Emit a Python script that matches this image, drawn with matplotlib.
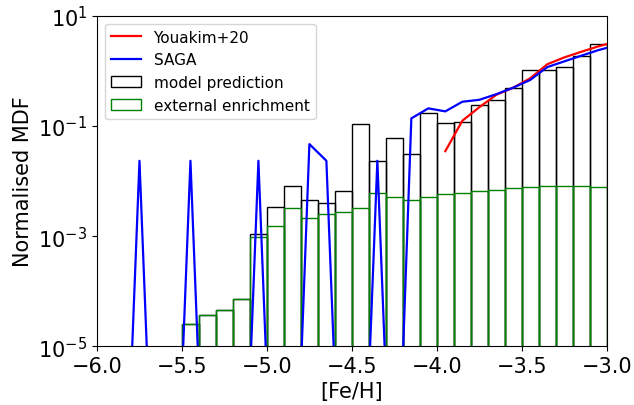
import numpy as np
import matplotlib
matplotlib.use('Agg')
import matplotlib.pyplot as plt
from matplotlib.ticker import FixedLocator, NullLocator

# histogram bins (left edges), width 0.1 dex
bin_left = [-5.5, -5.4, -5.3, -5.2, -5.1, -5.0, -4.9, -4.8, -4.7, -4.6,
            -4.5, -4.4, -4.3, -4.2, -4.1, -4.0, -3.9, -3.8, -3.7, -3.6,
            -3.5, -3.4, -3.3, -3.2, -3.1]
model_pred = [2.5e-5, 3.7e-5, 4.6e-5, 7.2e-5, 1.1e-3, 3.4e-3, 8.0e-3, 4.5e-3, 4.0e-3, 6.7e-3,
              0.109, 0.0228, 0.0605, 0.031, 0.17, 0.113, 0.12, 0.245, 0.30, 0.485,
              1.03, 1.06, 1.2, 1.85, 3.05]
ext_enrich = [2.5e-5, 3.7e-5, 4.6e-5, 7.2e-5, 9.8e-4, 1.5e-3, 3.2e-3, 2.1e-3, 2.5e-3, 2.8e-3,
              3.3e-3, 6.2e-3, 5.1e-3, 4.5e-3, 5.2e-3, 5.9e-3, 6.0e-3, 6.5e-3, 6.9e-3, 7.4e-3,
              7.7e-3, 8.3e-3, 8.2e-3, 8.0e-3, 7.9e-3]

# SAGA MDF (empty bins hold a tiny floor value)
saga_feh = [-5.85, -5.75, -5.65, -5.55, -5.45, -5.35, -5.25, -5.15, -5.05, -4.95,
            -4.85, -4.75, -4.65, -4.55, -4.45, -4.35, -4.25, -4.15, -4.05, -3.95,
            -3.85, -3.75, -3.65, -3.55, -3.45, -3.35, -3.25, -3.15, -3.05, -2.95]
saga_mdf = [3e-10, 0.0234, 3e-10, 3e-10, 0.0234, 3e-10, 3e-10, 3e-10, 0.0234, 3e-10,
            3e-10, 0.047, 0.0234, 3e-10, 3e-10, 0.0234, 3e-10, 0.138, 0.21, 0.185,
            0.277, 0.30, 0.38, 0.50, 0.69, 1.18, 1.5, 1.9, 2.4, 2.9]

# Youakim+20
you_feh = [-3.95, -3.85, -3.75, -3.65, -3.55, -3.45, -3.35, -3.25, -3.15, -3.05, -2.95]
you_mdf = [0.035, 0.125, 0.22, 0.37, 0.50, 0.74, 1.33, 1.77, 2.24, 2.81, 3.4]

fig = plt.figure(figsize=(6.34, 4.06), dpi=100)
ax = fig.add_axes([0.153, 0.145, 0.804, 0.813])

ax.plot(you_feh, you_mdf, color='red', lw=1.6, label='Youakim+20', zorder=3)
ax.plot(saga_feh, saga_mdf, color='blue', lw=1.6, label='SAGA', zorder=3)
ax.bar(bin_left, model_pred, width=0.1, align='edge', fill=False,
       edgecolor='black', lw=1.0, label='model prediction', zorder=1)
ax.bar(bin_left, ext_enrich, width=0.1, align='edge', fill=False,
       edgecolor='green', lw=1.0, label='external enrichment', zorder=2)

ax.set_yscale('log')
ax.set_xlim(-6.0, -3.0)
ax.set_ylim(1e-5, 10)
ax.yaxis.set_major_locator(FixedLocator([1e-5, 1e-3, 1e-1, 1e1]))
ax.yaxis.set_minor_locator(NullLocator())
ax.set_xticks([-6.0, -5.5, -5.0, -4.5, -4.0, -3.5, -3.0])
ax.tick_params(labelsize=15)

ax.set_xlabel('[Fe/H]', fontsize=15)
ax.set_ylabel('Normalised MDF', fontsize=15)
ax.legend(loc='upper left', fontsize=11)

fig.savefig('out.png', dpi=100)
